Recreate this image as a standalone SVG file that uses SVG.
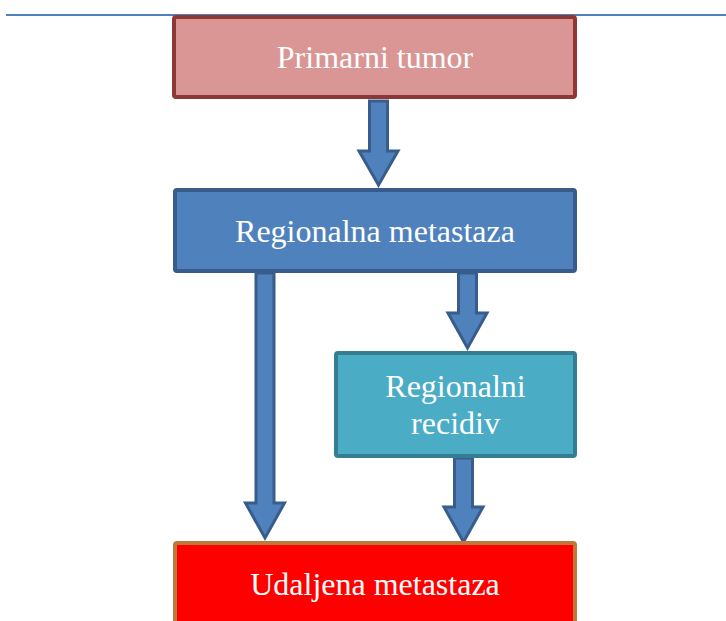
<svg xmlns="http://www.w3.org/2000/svg" width="726" height="621" viewBox="0 0 726 621">
<style>
.lbl{font-family:"Liberation Serif","Times New Roman",serif;font-size:32px;fill:#ffffff;text-anchor:middle}
.arr{fill:#4f81bd;stroke:#385d8a;stroke-width:3;stroke-linejoin:miter}
.box{stroke-width:4}
</style>
<rect width="726" height="621" fill="#ffffff"/>
<line x1="6" y1="15" x2="726" y2="15" stroke="#4f81bd" stroke-width="2"/>
<g id="connectors">
<polygon class="arr" points="369.5,101 387.5,101 387.5,151 398,151 378.5,185 359,151 369.5,151"/>
<polygon class="arr" points="458.5,273 476.5,273 476.5,313 487,313 467.5,348 448,313 458.5,313"/>
<polygon class="arr" points="256,273 274,273 274,503 284.5,503 265,538 245.5,503 256,503"/>
<polygon class="arr" points="454.5,458 472.5,458 472.5,507 483,507 463.5,542 444,507 454.5,507"/>
</g>
<g id="primarni">
<rect class="box" x="174" y="17" width="401" height="80" rx="2" fill="#d99694" stroke="#8c3836"/>
<text class="lbl" x="375" y="68">Primarni tumor</text>
</g>
<g id="regionalna">
<rect class="box" x="175" y="190" width="400" height="81" rx="2" fill="#4f81bd" stroke="#385d8a"/>
<text class="lbl" x="375" y="242">Regionalna metastaza</text>
</g>
<g id="recidiv">
<rect class="box" x="336" y="353" width="239" height="103" rx="2" fill="#4bacc6" stroke="#357d91"/>
<text class="lbl" x="455.5" y="397">Regionalni</text>
<text class="lbl" x="455.5" y="434">recidiv</text>
</g>
<g id="udaljena">
<rect class="box" x="175" y="543" width="400" height="100" rx="2" fill="#ff0000" stroke="#c0773a"/>
<text class="lbl" x="375" y="595">Udaljena metastaza</text>
</g>
</svg>
